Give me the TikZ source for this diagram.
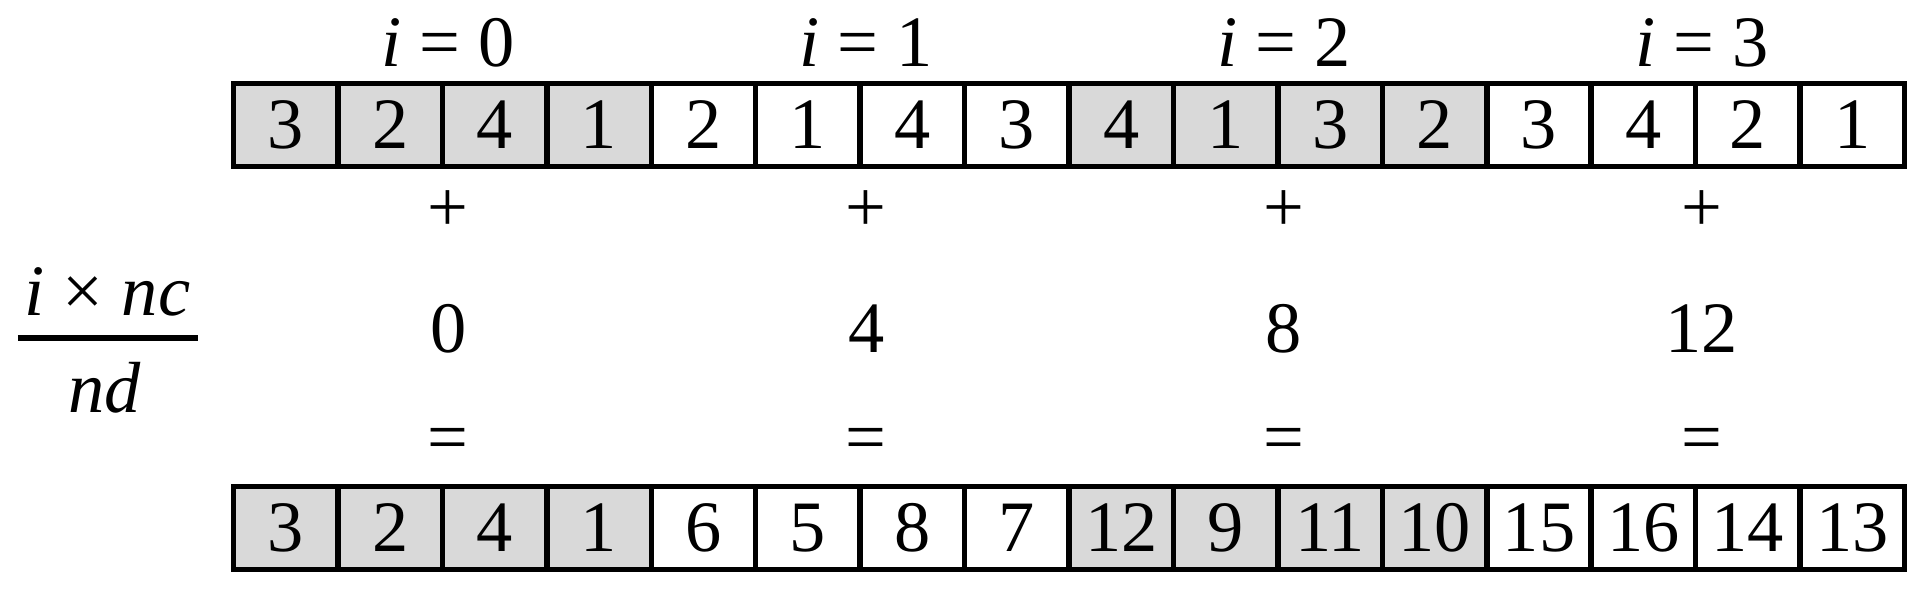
\documentclass[tikz,border=0pt]{standalone}
\usepackage{fontspec}
\setmainfont{Liberation Serif}
\usetikzlibrary{
    calc,
}

\begin{document}
\begin{tikzpicture}[
        cell/.style={rectangle, draw=black, line width=0.055cm, minimum width=1.0444cm, minimum height=0.83cm, inner sep=0pt, font=\fontsize{20.6}{24}\selectfont},
        lbl/.style={inner sep=0pt, font=\fontsize{20.6}{24}\selectfont},
        fracbar/.style={line width=0.06cm}
        ]
        \useasboundingbox (0,0) rectangle (19.31,-5.99);
        % top row
        \foreach \v [count=\k from 0] in {3,2,4,1,2,1,4,3,4,1,3,2,3,4,2,1}{
            \pgfmathsetmacro{\cx}{2.335+(\k+0.5)*1.0444}
            \pgfmathtruncatemacro{\grp}{floor(\k/4)}
            \ifodd\grp \def\shade{white}\else \def\shade{black!15}\fi
            \node[cell, fill=\shade] (T\k) at (\cx,-1.25) {\v};
        }
        % bottom row
        \foreach \v [count=\k from 0] in {3,2,4,1,6,5,8,7,12,9,11,10,15,16,14,13}{
            \pgfmathsetmacro{\cx}{2.335+(\k+0.5)*1.0444}
            \pgfmathtruncatemacro{\grp}{floor(\k/4)}
            \ifodd\grp \def\shade{white}\else \def\shade{black!15}\fi
            \node[cell, fill=\shade] (B\k) at (\cx,-5.28) {\v};
        }
        % labels per group
        \foreach \g/\off in {0/0,1/4,2/8,3/12}{
            \pgfmathsetmacro{\gx}{2.395+(4*\g+2)*1.0444}
            \node[lbl] (I\g) at (\gx,-0.43) {\textit{i} = \g};
            \node[lbl] (P\g) at (\gx,-2.11) {+};
            \node[lbl] (O\g) at (\gx,-3.29) {\off};
            \node[lbl] (E\g) at (\gx,-4.45) {=};
        }
        % i x nc / nd
        \node[lbl] (num) at (1.075,-2.92) {\textit{i} × \textit{nc}};
        \node[lbl] (den) at (1.05,-3.875) {\textit{nd}};
        \coordinate (barL) at (0.18,-3.38);
        \coordinate (barR) at (1.98,-3.38);
        \draw[fracbar] (barL) -- (barR);
    \end{tikzpicture}
\end{document}
